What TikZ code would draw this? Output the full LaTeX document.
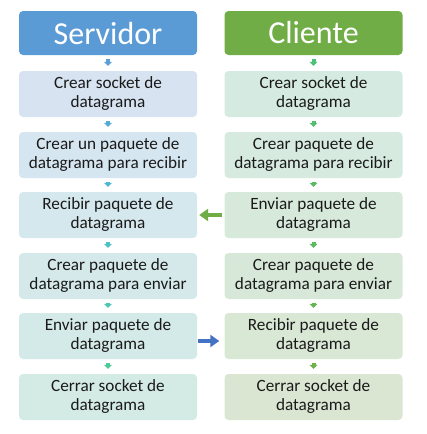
\documentclass[tikz,border=0pt]{standalone}
\usepackage{fontspec}
\setmainfont{Carlito}
\usetikzlibrary{arrows.meta}
\definecolor{hdrL}{HTML}{5B9BD5}
\definecolor{hdrR}{HTML}{70AD47}
\definecolor{txt}{HTML}{1A1A1A}
\definecolor{fL1}{HTML}{D7E3F1}
\definecolor{fL2}{HTML}{D6E6F0}
\definecolor{fL3}{HTML}{D5E8EE}
\definecolor{fL4}{HTML}{D5E9EB}
\definecolor{fL5}{HTML}{D4EAE8}
\definecolor{fL6}{HTML}{D4EBE5}
\definecolor{fR1}{HTML}{D5EBE2}
\definecolor{fR2}{HTML}{D6EADF}
\definecolor{fR3}{HTML}{D7E9DB}
\definecolor{fR4}{HTML}{D8E8D8}
\definecolor{fR5}{HTML}{D9E7D5}
\definecolor{fR6}{HTML}{DAE6D2}
\definecolor{aL1}{HTML}{5B9FD8}
\definecolor{aL2}{HTML}{55ABD6}
\definecolor{aL3}{HTML}{4FB8D2}
\definecolor{aL4}{HTML}{4CC1C6}
\definecolor{aL5}{HTML}{4DC6B2}
\definecolor{aL6}{HTML}{4FC99A}
\definecolor{aR1}{HTML}{4DC07A}
\definecolor{aR2}{HTML}{52BE70}
\definecolor{aR3}{HTML}{58BB66}
\definecolor{aR4}{HTML}{5EB95C}
\definecolor{aR5}{HTML}{65B653}
\definecolor{aR6}{HTML}{6DB34A}
\definecolor{arrG}{HTML}{70AD47}
\definecolor{arrB}{HTML}{4472C4}
\tikzset{
  hdr/.style={rounded corners=4pt, minimum width=178pt, minimum height=44pt,
    inner sep=0pt, text=white, font=\fontsize{32}{36}\selectfont},
  stepbox/.style={rounded corners=4pt, minimum width=178pt, minimum height=46pt,
    inner sep=0pt, text=txt, align=center, font=\fontsize{17.2}{19}\selectfont},
  dn/.style={line width=4pt, -{Triangle[width=8pt,length=4pt]},
    shorten <=4pt, shorten >=5pt},
  hz/.style={line width=4pt, -{Triangle[width=12pt,length=9pt]}},
}
\begin{document}
\begin{tikzpicture}[x=1pt,y=1pt]
\useasboundingbox (0,0) rectangle (427,-434);
\node[hdr, fill=hdrL] (L0) at (108,-33) {Servidor};
\node[hdr, fill=hdrR] (R0) at (313.5,-33) {Cliente};
\node[stepbox, fill=fL1] (L1) at (108,-94) {Crear socket de\\datagrama};
\node[stepbox, fill=fL2] (L2) at (108,-155) {Crear un paquete de\\datagrama para recibir};
\node[stepbox, fill=fL3] (L3) at (108,-215) {Recibir paquete de\\datagrama};
\node[stepbox, fill=fL4] (L4) at (108,-276) {Crear paquete de\\datagrama para enviar};
\node[stepbox, fill=fL5] (L5) at (108,-336) {Enviar paquete de\\datagrama};
\node[stepbox, fill=fL6] (L6) at (108,-397) {Cerrar socket de\\datagrama};
\node[stepbox, fill=fR1] (R1) at (313.5,-94) {Crear socket de\\datagrama};
\node[stepbox, fill=fR2] (R2) at (313.5,-155) {Crear paquete de\\datagrama para recibir};
\node[stepbox, fill=fR3] (R3) at (313.5,-215) {Enviar paquete de\\datagrama};
\node[stepbox, fill=fR4] (R4) at (313.5,-276) {Crear paquete de\\datagrama para enviar};
\node[stepbox, fill=fR5] (R5) at (313.5,-336) {Recibir paquete de\\datagrama};
\node[stepbox, fill=fR6] (R6) at (313.5,-397) {Cerrar socket de\\datagrama};
\draw[dn, aL1] (L0.south) -- (L1.north);
\draw[dn, aL2] (L1.south) -- (L2.north);
\draw[dn, aL3] (L2.south) -- (L3.north);
\draw[dn, aL4] (L3.south) -- (L4.north);
\draw[dn, aL5] (L4.south) -- (L5.north);
\draw[dn, aL6] (L5.south) -- (L6.north);
\draw[dn, aR1] (R0.south) -- (R1.north);
\draw[dn, aR2] (R1.south) -- (R2.north);
\draw[dn, aR3] (R2.south) -- (R3.north);
\draw[dn, aR4] (R3.south) -- (R4.north);
\draw[dn, aR5] (R4.south) -- (R5.north);
\draw[dn, aR6] (R5.south) -- (R6.north);
\draw[hz, arrG, shorten <=2.5pt, shorten >=2pt] (R3.west) -- (L3.east);
\draw[hz, arrB, shorten <=1pt, shorten >=5pt] ([yshift=-5pt]L5.east) -- ([yshift=-5pt]R5.west);
\end{tikzpicture}
\end{document}
